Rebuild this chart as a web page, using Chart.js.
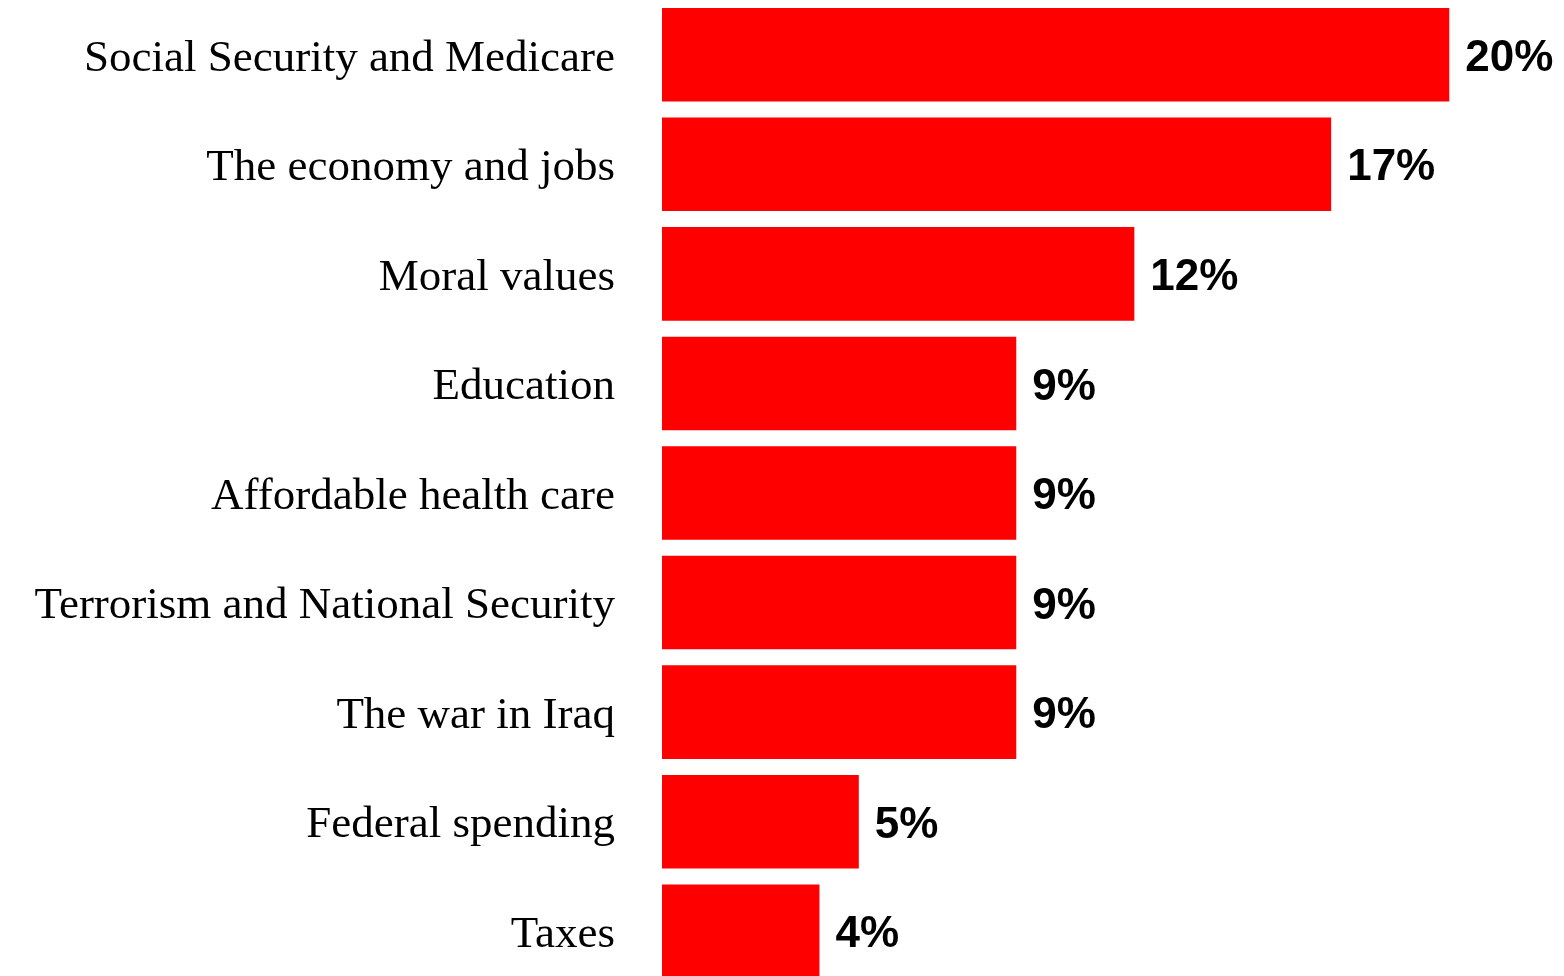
<!DOCTYPE html>
<html>
<head>
<meta charset="utf-8">
<script src="https://cdn.jsdelivr.net/npm/chart.js@4/dist/chart.umd.min.js"></script>
<style>
  html, body { margin: 0; padding: 0; background: #fff; overflow: hidden; }
  #wrap { position: relative; width: 1564px; height: 986px; }
</style>
</head>
<body>
<div id="wrap"><canvas id="issuesChart"></canvas></div>
<script>
// issues named as most important
var categories = [
  "Social Security and Medicare",
  "The economy and jobs",
  "Moral values",
  "Education",
  "Affordable health care",
  "Terrorism and National Security",
  "The war in Iraq",
  "Federal spending",
  "Taxes"
];
var shares = [20, 17, 12, 9, 9, 9, 9, 5, 4];
var barColor = "#ff0000";

// writes "20%" etc just past the end of each bar
var valueLabels = {
  id: "valueLabels",
  afterDatasetsDraw: function(chart) {
    var ctx = chart.ctx;
    var meta = chart.getDatasetMeta(0);
    ctx.save();
    ctx.font = "bold 44px 'Liberation Sans', Arial, sans-serif";
    ctx.fillStyle = "#000";
    ctx.textAlign = "left";
    ctx.textBaseline = "middle";
    meta.data.forEach(function(bar, i) {
      ctx.fillText(shares[i] + "%", bar.x + 16, bar.y + 4);
    });
    ctx.restore();
  }
};

var ctxBar = document.getElementById("issuesChart");
var chart = new Chart(ctxBar, {
  type: "bar",
  data: {
    labels: categories,
    datasets: [{
      data: shares,
      backgroundColor: barColor,
      borderWidth: 0,
      barPercentage: 0.854,
      categoryPercentage: 1
    }]
  },
  options: {
    indexAxis: "y",
    responsive: true,
    maintainAspectRatio: false,
    animation: false,
    layout: { padding: { left: 0, right: 36, top: 0, bottom: 0 } },
    plugins: {
      legend: { display: false },
      tooltip: { enabled: false }
    },
    scales: {
      x: {
        min: 0,
        max: 22,
        display: false
      },
      y: {
        grid: { display: false, drawTicks: false },
        border: { display: false },
        ticks: {
          color: "#000",
          padding: 47,
          labelOffset: 4,
          font: { family: "'Liberation Serif', 'Times New Roman', serif", size: 45 }
        },
        afterFit: function(scale) {
          scale.width = 662;
          // no extra room above/below for the first and last label
          scale.paddingTop = 0;
          scale.paddingBottom = 0;
        }
      }
    }
  },
  plugins: [valueLabels]
});
</script>
</body>
</html>
